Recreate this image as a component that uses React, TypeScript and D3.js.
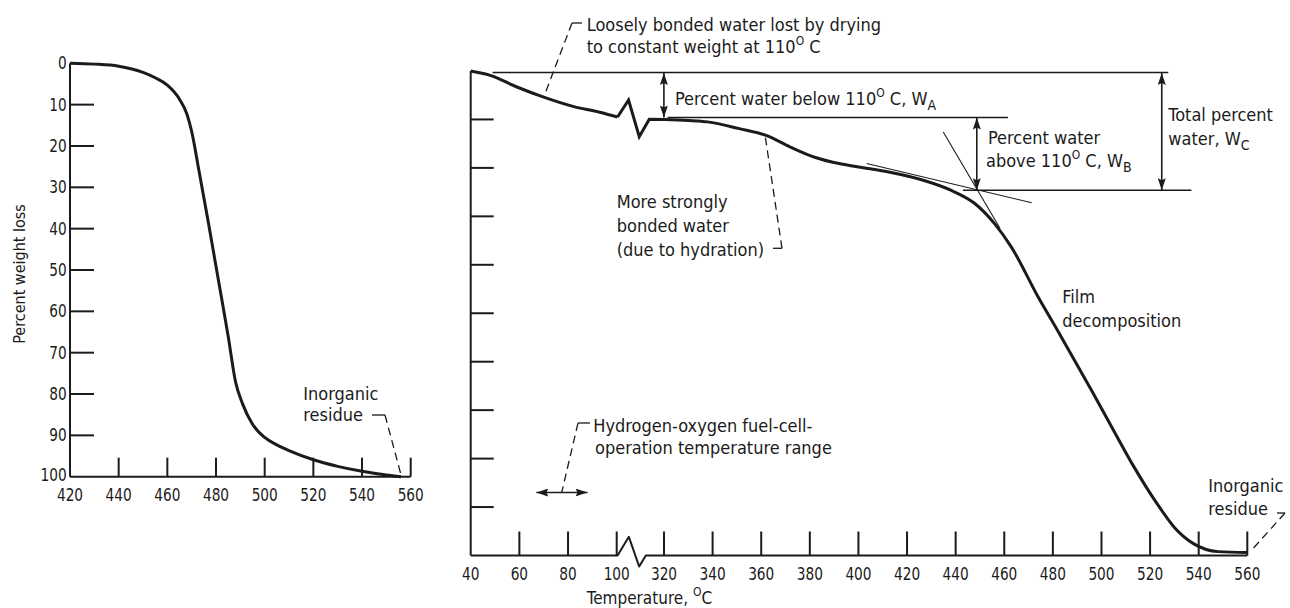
import React from 'react';
import * as d3 from 'd3';

// ---- values ----
// left panel: decomposition of the film, temperature (C) vs percent weight loss
const leftTemp = [420, 430, 440, 445, 450, 455, 460, 465, 468, 470, 473, 477, 481, 485, 488, 491, 495, 500, 505, 510, 520, 530, 540, 550, 556];
const leftLoss = [0, 0.2, 0.7, 1.3, 2.2, 3.5, 5.3, 8.7, 12.2, 16.5, 26, 39, 52.5, 66, 77, 82.5, 87.3, 90.5, 92.3, 93.7, 95.9, 97.5, 98.7, 99.6, 100];

// right panel: drying part (before the axis break) and the rest of the run
const lowTemp = [40, 48, 59, 70, 82, 93, 104];
const lowLoss = [0, 0.9, 3.3, 5.4, 7.3, 8.5, 9.5];
const highTemp = [320, 330, 338, 351, 362, 372, 382, 392, 400, 413, 427, 438, 448, 456, 463, 474, 482, 496, 505, 513, 523, 530, 538, 548, 560];
const highLoss = [10, 10.2, 10.5, 11.9, 13.3, 15.7, 17.8, 19.1, 19.8, 20.9, 22.6, 24.6, 27.4, 31.5, 36.4, 46.7, 53.6, 66, 74.2, 81.4, 89.4, 94.2, 97.6, 99.2, 99.4];

const leftXLabels = [420, 440, 460, 480, 500, 520, 540, 560];
const yLabels = [0, 10, 20, 30, 40, 50, 60, 70, 80, 90, 100];
const yTicks = [10, 20, 30, 40, 50, 60, 70, 80, 90];
const rightXLabels = [40, 60, 80, 100, 320, 340, 360, 380, 400, 420, 440, 460, 480, 500, 520, 540, 560];

// W_A / W_B / W_C construction
const waterA = 9.6;
const waterC = 24.6;
const waterBTemp = 448.7;
const waterCTemp = 524.8;
const tangentShallow = [[403.4, 19.1], [471.3, 27.2]];
const tangentSteep = [[434.9, 12.6], [458.3, 32.5]];
const fuelCellRange = [67, 88];
const fuelCellLevel = 87;
const breakTemp = 104;

const FONT = "'DejaVu Sans Condensed', 'DejaVu Sans', sans-serif";
const INK = '#1b1b1b';

// zigzag glyphs for the broken axis / curve (pixel offsets)
const axisZig = [[0, 0], [11.3, -18.7], [21.6, 11], [28.3, 0]];
const curveZig = [[0, 0], [11, -17], [21.7, 19.7], [31.7, 2.3]];

const TickLabel = ({ x, y, v, anchor = 'middle' }: any) => {
  const s = String(v);
  return (
    <text x={x} y={y} textAnchor={anchor} fontSize={17} fontFamily={FONT}
      textLength={s.length * 8.7} lengthAdjust="spacingAndGlyphs" fill={INK}>{s}</text>
  );
};

const Deg = () => <tspan dy={-8} fontSize={12}>O</tspan>;

export default function App() {
  const leftX = d3.scaleLinear().domain([420, 560]).range([70, 410.7]);
  const leftY = d3.scaleLinear().domain([0, 100]).range([63.3, 476.7]);
  const rightX = d3.scaleLinear().domain([40, 100, 320, 560]).range([470.7, 616.7, 664, 1247.3]);
  const rightY = d3.scaleLinear().domain([0, 100]).range([71, 555.5]);

  const leftLine = d3.line<number>()
    .x((d, i) => leftX(leftTemp[i]))
    .y(d => leftY(d))
    .curve(d3.curveMonotoneX);

  const lowLine = d3.line<number>()
    .x((d, i) => rightX(lowTemp[i]))
    .y(d => rightY(d))
    .curve(d3.curveMonotoneX);

  const highLine = d3.line<number>()
    .x((d, i) => rightX(highTemp[i]))
    .y(d => rightY(d))
    .curve(d3.curveMonotoneX);

  const plain = d3.line();

  // curve break
  const bx = rightX(breakTemp), by = rightY(lowLoss[lowLoss.length - 1]);
  const curveBreak: [number, number][] = curveZig.map(([dx, dy]) => [bx + dx, by + dy]);
  curveBreak.push([rightX(highTemp[0]), rightY(highLoss[0])]);

  // axis break
  const ay = rightY(100);
  const axisBreak: [number, number][] = [[rightX(40), ay], ...axisZig.map(([dx, dy]) => [bx + dx, ay + dy] as [number, number]), [rightX(560), ay]];

  const lineStyle = { stroke: INK, fill: 'none' };

  return (
    <svg width={1290} height={608} style={{ position: 'absolute', left: 0, top: 0, background: '#fff' }}>
      <defs>
        <marker id="ah" viewBox="0 0 12 8" refX={12} refY={4} markerWidth={12} markerHeight={8}
          markerUnits="userSpaceOnUse" orient="auto-start-reverse">
          <path d="M0,0 L12,4 L0,8 L2,4 Z" fill={INK} />
        </marker>
      </defs>

      {/* ---------- left panel ---------- */}
      <g>
        <line x1={leftX(420)} x2={leftX(420)} y1={leftY(0)} y2={leftY(100)} {...lineStyle} strokeWidth={2} />
        <line x1={leftX(420)} x2={leftX(560)} y1={leftY(100)} y2={leftY(100)} {...lineStyle} strokeWidth={2} />
        {yTicks.map(t => (
          <line key={t} x1={leftX(420)} x2={leftX(420) + 24} y1={leftY(t)} y2={leftY(t)} {...lineStyle} strokeWidth={2} />
        ))}
        {leftXLabels.slice(1).map(t => (
          <line key={t} x1={leftX(t)} x2={leftX(t)} y1={leftY(100)} y2={leftY(100) - 19} {...lineStyle} strokeWidth={2} />
        ))}
        {yLabels.map(t => <TickLabel key={t} x={66.7} y={Math.min(leftY(t) + 6, 481)} v={t} anchor="end" />)}
        {leftXLabels.map(t => <TickLabel key={t} x={leftX(t)} y={501} v={t} />)}
        <text transform="translate(25,274) rotate(-90)" textAnchor="middle" fontSize={16} fontFamily={FONT} fill={INK}>Percent weight loss</text>
        <path d={leftLine(leftLoss) || ''} {...lineStyle} strokeWidth={3} strokeLinejoin="round" />

        <text x={303.3} y={400} fontSize={18} fontFamily={FONT} fill={INK}>Inorganic</text>
        <text x={303.3} y={420.7} fontSize={18} fontFamily={FONT} fill={INK}>residue</text>
        <line x1={372} x2={385} y1={415} y2={415} {...lineStyle} strokeWidth={1.3} />
        <line x1={385} x2={leftX(556)} y1={415} y2={leftY(100) - 2} {...lineStyle} strokeWidth={1.3} strokeDasharray="8,5" />
      </g>

      {/* ---------- right panel ---------- */}
      <g>
        <line x1={rightX(40)} x2={rightX(40)} y1={rightY(0)} y2={rightY(100)} {...lineStyle} strokeWidth={2} />
        <path d={plain(axisBreak) || ''} {...lineStyle} strokeWidth={2} strokeLinejoin="round" />
        {yTicks.map(t => (
          <line key={t} x1={rightX(40)} x2={rightX(40) + 23} y1={rightY(t)} y2={rightY(t)} {...lineStyle} strokeWidth={2} />
        ))}
        {rightXLabels.slice(1).map(t => (
          <line key={t} x1={rightX(t)} x2={rightX(t)} y1={ay} y2={ay - 24} {...lineStyle} strokeWidth={2} />
        ))}
        {rightXLabels.map(t => <TickLabel key={t} x={rightX(t)} y={580} v={t} />)}
        <text x={586.7} y={604} fontSize={17} fontFamily={FONT} fill={INK}>
          Temperature, <Deg /><tspan dy={8}>C</tspan>
        </text>

        {/* curve */}
        <path d={lowLine(lowLoss) || ''} {...lineStyle} strokeWidth={3} strokeLinejoin="round" />
        <path d={plain(curveBreak) || ''} {...lineStyle} strokeWidth={3} strokeLinejoin="miter" />
        <path d={highLine(highLoss) || ''} {...lineStyle} strokeWidth={3} strokeLinejoin="round" />

        {/* water construction */}
        <line x1={rightX(49)} x2={rightX(527.5)} y1={rightY(0) + 1.5} y2={rightY(0) + 1.5} {...lineStyle} strokeWidth={1.6} />
        <line x1={rightX(321.5)} x2={rightX(461.5)} y1={rightY(waterA)} y2={rightY(waterA)} {...lineStyle} strokeWidth={1.6} />
        <line x1={rightX(443)} x2={rightX(537)} y1={rightY(waterC)} y2={rightY(waterC)} {...lineStyle} strokeWidth={1.6} />
        <line x1={rightX(319.5)} x2={rightX(319.5)} y1={rightY(0) + 2} y2={rightY(waterA)} {...lineStyle} strokeWidth={1.6} markerStart="url(#ah)" markerEnd="url(#ah)" />
        <line x1={rightX(waterBTemp)} x2={rightX(waterBTemp)} y1={rightY(waterA)} y2={rightY(waterC)} {...lineStyle} strokeWidth={1.6} markerStart="url(#ah)" markerEnd="url(#ah)" />
        <line x1={rightX(waterCTemp)} x2={rightX(waterCTemp)} y1={rightY(0) + 2} y2={rightY(waterC)} {...lineStyle} strokeWidth={1.6} markerStart="url(#ah)" markerEnd="url(#ah)" />
        <line x1={rightX(tangentShallow[0][0])} y1={rightY(tangentShallow[0][1])} x2={rightX(tangentShallow[1][0])} y2={rightY(tangentShallow[1][1])} {...lineStyle} strokeWidth={1.1} />
        <line x1={rightX(tangentSteep[0][0])} y1={rightY(tangentSteep[0][1])} x2={rightX(tangentSteep[1][0])} y2={rightY(tangentSteep[1][1])} {...lineStyle} strokeWidth={1.1} />

        <text x={675} y={105} fontSize={18} fontFamily={FONT} fill={INK}>
          Percent water below 110<Deg /><tspan dy={8}> C,  W</tspan><tspan dy={5} fontSize={14}>A</tspan>
        </text>
        <text x={988} y={144} fontSize={18} fontFamily={FONT} fill={INK}>Percent water</text>
        <text x={986} y={166.7} fontSize={18} fontFamily={FONT} fill={INK}>
          above 110<Deg /><tspan dy={8}> C,  W</tspan><tspan dy={5} fontSize={14}>B</tspan>
        </text>
        <text x={1168.3} y={120.7} fontSize={18} fontFamily={FONT} fill={INK}>Total percent</text>
        <text x={1168.3} y={145} fontSize={18} fontFamily={FONT} fill={INK}>
          water,  W<tspan dy={5} fontSize={14}>C</tspan>
        </text>

        {/* loosely bonded water */}
        <text x={586.7} y={30.7} fontSize={18} fontFamily={FONT} fill={INK}>Loosely bonded water lost by drying</text>
        <text x={586.7} y={53.3} fontSize={18} fontFamily={FONT} fill={INK}>
          to constant weight at 110<Deg /><tspan dy={8}> C</tspan>
        </text>
        <line x1={572} x2={582} y1={23} y2={23} {...lineStyle} strokeWidth={1.3} />
        <line x1={572} y1={23} x2={rightX(70)} y2={rightY(5.4)} {...lineStyle} strokeWidth={1.3} strokeDasharray="8,5" />

        {/* strongly bonded water */}
        <text x={616.7} y={208.3} fontSize={18} fontFamily={FONT} fill={INK}>More strongly</text>
        <text x={616.7} y={232} fontSize={18} fontFamily={FONT} fill={INK}>bonded water</text>
        <text x={616.7} y={255.5} fontSize={18} fontFamily={FONT} fill={INK}>(due to hydration)</text>
        <line x1={773} x2={782} y1={248.3} y2={248.3} {...lineStyle} strokeWidth={1.3} />
        <line x1={782} y1={248.3} x2={rightX(361.6)} y2={rightY(13.3)} {...lineStyle} strokeWidth={1.3} strokeDasharray="8,5" />

        {/* fuel cell range */}
        <text x={593.3} y={432} fontSize={18} fontFamily={FONT} fill={INK}>Hydrogen-oxygen fuel-cell-</text>
        <text x={595} y={454.3} fontSize={18} fontFamily={FONT} fill={INK}>operation temperature range</text>
        <line x1={578} x2={590} y1={423} y2={423} {...lineStyle} strokeWidth={1.3} />
        <line x1={578} y1={423} x2={rightX(77.4)} y2={rightY(fuelCellLevel)} {...lineStyle} strokeWidth={1.3} strokeDasharray="8,5" />
        <line x1={rightX(fuelCellRange[0])} x2={rightX(fuelCellRange[1])} y1={rightY(fuelCellLevel)} y2={rightY(fuelCellLevel)} {...lineStyle} strokeWidth={1.6} markerStart="url(#ah)" markerEnd="url(#ah)" />

        {/* film decomposition */}
        <text x={1062.3} y={302.7} fontSize={18} fontFamily={FONT} fill={INK}>Film</text>
        <text x={1062.3} y={326.7} fontSize={18} fontFamily={FONT} fill={INK}>decomposition</text>

        {/* inorganic residue */}
        <text x={1208.3} y={491.7} fontSize={18} fontFamily={FONT} fill={INK}>Inorganic</text>
        <text x={1208.3} y={515} fontSize={18} fontFamily={FONT} fill={INK}>residue</text>
        <line x1={1277} x2={1285} y1={513} y2={513} {...lineStyle} strokeWidth={1.3} />
        <line x1={1285} y1={513} x2={rightX(560) + 3} y2={rightY(99.4) - 1} {...lineStyle} strokeWidth={1.3} strokeDasharray="8,5" />
      </g>
    </svg>
  );
}
